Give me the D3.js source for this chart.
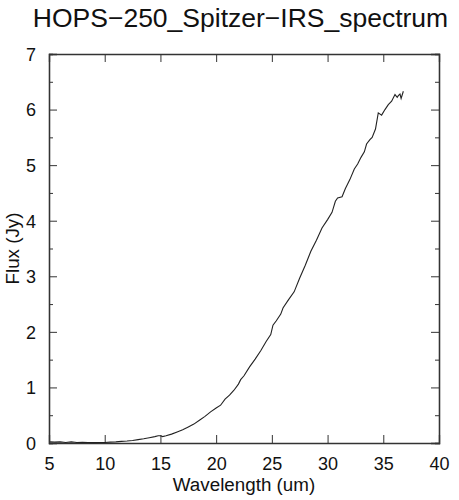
<!DOCTYPE html>
<html><head><meta charset="utf-8">
<script src="https://cdn.jsdelivr.net/npm/d3@7"></script>
<style>body{margin:0;background:#fff}svg{display:block}text{font-family:"Liberation Sans",Arial,sans-serif;fill:#111}</style>
</head><body>
<svg id="c" width="459" height="500"></svg>
<script>
const title = "HOPS\u2212250_Spitzer\u2212IRS_spectrum";
const xLabel = "Wavelength (um)";
const yLabel = "Flux (Jy)";
const xTicks = [5,10,15,20,25,30,35,40];
const yTicks = [0,1,2,3,4,5,6,7];
const yMinor = [0.5,1.5,2.5,3.5,4.5,5.5,6.5];
const wavelength = [5.1,5.5,6.0,6.5,7.0,7.5,8.0,8.5,9.0,9.5,10.0,10.5,11.0,11.5,12.0,12.5,13.0,13.5,14.0,14.5,14.8,15.0,15.2,15.5,16.0,16.5,17.0,17.5,18.0,18.5,19.0,19.5,20.0,20.4,20.8,21.2,21.6,22.0,22.2,22.5,23.0,23.5,24.0,24.5,24.9,25.1,25.4,25.8,26.0,26.5,27.0,27.5,28.0,28.5,29.0,29.5,30.0,30.4,30.7,30.9,31.3,31.6,32.0,32.4,32.7,33.0,33.3,33.5,33.8,34.0,34.3,34.55,34.85,35.15,35.45,35.75,36.05,36.25,36.35,36.5,36.6,36.8];
const flux = [0.02,0.015,0.02,0.01,0.02,0.01,0.012,0.01,0.006,0.01,0.01,0.015,0.02,0.03,0.035,0.045,0.06,0.075,0.095,0.115,0.13,0.13,0.115,0.13,0.16,0.2,0.24,0.29,0.34,0.41,0.48,0.56,0.63,0.68,0.79,0.86,0.95,1.06,1.14,1.21,1.37,1.51,1.66,1.83,1.95,2.12,2.2,2.32,2.43,2.58,2.72,2.97,3.2,3.45,3.65,3.87,4.02,4.15,4.35,4.41,4.43,4.58,4.74,4.93,5.02,5.14,5.24,5.38,5.46,5.5,5.65,5.94,5.9,6.0,6.09,6.15,6.27,6.22,6.25,6.28,6.2,6.33];

const L=49,R=439,T=54,B=443;
const svg=d3.select("#c");
const x=d3.scaleLinear().domain([5,40]).range([L,R]);
const y=d3.scaleLinear().domain([0,7]).range([B,T]);
const col="#333";

svg.append("text").attr("x",240.5).attr("y",27).attr("text-anchor","middle").style("font-size","26.5px").text(title);

const gBottom=svg.append("g").attr("transform",`translate(0,${B})`).call(d3.axisBottom(x).tickValues(xTicks).tickSize(-8).tickPadding(14).tickFormat(d3.format("d")));
const gTop=svg.append("g").attr("transform",`translate(0,${T})`).call(d3.axisTop(x).tickValues(xTicks).tickSize(-8).tickFormat(""));
const gLeft=svg.append("g").attr("transform",`translate(${L},0)`).call(d3.axisLeft(y).tickValues(yTicks).tickSize(-8).tickPadding(13).tickFormat(d3.format("d")));
const gRight=svg.append("g").attr("transform",`translate(${R},0)`).call(d3.axisRight(y).tickValues(yTicks).tickSize(-8).tickFormat(""));
svg.append("g").attr("transform",`translate(${L},0)`).call(d3.axisLeft(y).tickValues(yMinor).tickSize(-4).tickFormat(""));
svg.append("g").attr("transform",`translate(${R},0)`).call(d3.axisRight(y).tickValues(yMinor).tickSize(-4).tickFormat(""));
svg.selectAll(".domain").attr("stroke",col).attr("stroke-width",1.3);
svg.selectAll(".tick line").attr("stroke",col).attr("stroke-width",1);
svg.selectAll(".tick text").style("font-size","18px").attr("fill","#111");
gLeft.selectAll(".tick text").attr("dy","0.35em");
gBottom.selectAll(".tick text").attr("dy","0.71em");

svg.append("text").attr("x",(L+R)/2).attr("y",491).attr("text-anchor","middle").style("font-size","18.8px").text(xLabel);
svg.append("text").attr("transform",`translate(19,${(T+B)/2}) rotate(-90)`).attr("text-anchor","middle").style("font-size","18.8px").text(yLabel);

const line=d3.line().x((d,i)=>x(wavelength[i])).y(d=>y(d));
svg.append("path").datum(flux).attr("d",line).attr("fill","none").attr("stroke","#222").attr("stroke-width",1.1);
</script>
</body></html>
